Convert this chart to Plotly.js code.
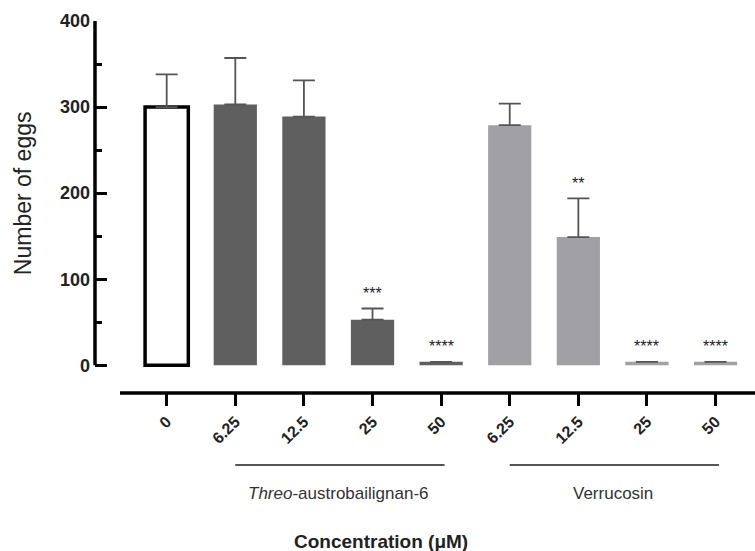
<!DOCTYPE html>
<html>
<head>
<meta charset="utf-8">
<script src="https://cdn.plot.ly/plotly-3.0.1.min.js"></script>
<style>html,body{margin:0;padding:0;background:#fff;}#chart{width:755px;height:551px;}</style>
</head>
<body>
<div id="chart"></div>
<script>
// ---- data ----
const categories = ["0", "6.25", "12.5", "25", "50", "6.25", "12.5", "25", "50"];
const groupNames = ["Control", "<i>Threo</i>-austrobailignan-6", "Verrucosin"];
const groupOf = [0, 1, 1, 1, 1, 2, 2, 2, 2];
const meanEggs = [300, 303, 289, 53, 4, 279, 149, 4, 4];
const errEggs = [38, 54, 42, 13, 0, 25, 45, 0, 0];
const stars = ["", "", "", "***", "****", "", "**", "****", "****"];
const yTicks = [0, 100, 200, 300, 400];

// ---- styles ----
const FONT = "Liberation Sans, Arial, Helvetica, sans-serif";
const W = 755, H = 551;
const M = {l: 95, r: 0, t: 21, b: 158};
const plotH = H - M.t - M.b;
const plotW = W - M.l - M.r;
const fills = ["#ffffff", "#5f5f5f", "#a1a1a5"];
const lines = ["#000000", "#5f5f5f", "#a1a1a5"];
const lineW = [3.5, 0, 0];

const traces = [0, 1, 2].map(g => {
  const idx = categories.map((c, i) => i).filter(i => groupOf[i] === g);
  return {
    type: "bar",
    x: idx,
    y: idx.map(i => meanEggs[i]),
    width: 0.63,
    marker: {color: fills[g], line: {color: lines[g], width: lineW[g]}},
    error_y: {
      type: "data", symmetric: false,
      array: idx.map(i => errEggs[i]),
      arrayminus: idx.map(() => 0),
      color: "#555555", thickness: 1.8, width: 11
    },
    hoverinfo: "skip",
    showlegend: false
  };
});

const annotations = [];
categories.forEach((c, i) => {
  if (stars[i]) {
    annotations.push({
      x: i, y: meanEggs[i] + errEggs[i], xref: "x", yref: "y",
      text: stars[i], showarrow: false, yanchor: "middle", yshift: 15,
      font: {family: FONT, size: 16, color: "#222"}
    });
  }
});

const shapes = [
  // y axis line (0..400 only)
  {type: "line", xref: "paper", yref: "y", x0: 0, x1: 0, y0: 0, y1: 400,
   line: {color: "#000", width: 3.5}},
  // x axis line (offset below zero)
  {type: "line", xref: "paper", yref: "paper", x0: (120 - M.l) / plotW, x1: 1, y0: 0, y1: 0,
   line: {color: "#000", width: 3.5}}
];

[1, 2].forEach(g => {
  const idx = categories.map((c, i) => i).filter(i => groupOf[i] === g);
  const a = Math.min(...idx), b = Math.max(...idx);
  shapes.push({type: "line", xref: "x", yref: "paper", x0: a, x1: b + 0.05,
    y0: -72 / plotH, y1: -72 / plotH, line: {color: "#555", width: 1.8}});
  annotations.push({x: (a + b) / 2, xref: "x", y: -100 / plotH, yref: "paper",
    text: groupNames[g], showarrow: false, yanchor: "middle",
    font: {family: FONT, size: 17, color: "#333"}});
});

annotations.push({x: (381 - M.l) / plotW, xref: "paper", y: -148 / plotH, yref: "paper",
  text: "<b>Concentration (μM)</b>", showarrow: false, yanchor: "middle",
  font: {family: FONT, size: 19, color: "#222"}});

// y axis title
annotations.push({x: (23 - M.l) / plotW, xref: "paper", y: 200, yref: "y",
  text: "Number of eggs", textangle: -90, showarrow: false,
  xanchor: "center", yanchor: "middle",
  font: {family: FONT, size: 23, color: "#222"}});

const layout = {
  width: W, height: H,
  margin: M,
  paper_bgcolor: "#fff", plot_bgcolor: "#fff",
  xaxis: {
    range: [-1.045, 8.575],
    tickmode: "array",
    tickvals: categories.map((c, i) => i),
    ticktext: categories.map(c => "<b>" + c + "</b>"),
    tickangle: -45,
    ticks: "outside", ticklen: 12, tickwidth: 3, tickcolor: "#000",
    showline: false, showgrid: false, zeroline: false,
    tickfont: {family: FONT, size: 16, color: "#222"}
  },
  yaxis: {
    range: [-32.2, 400],
    tickmode: "array",
    tickvals: yTicks,
    ticktext: yTicks.map(v => "<b>" + v + "</b>"),
    ticks: "inside", ticklen: 12, tickwidth: 3, tickcolor: "#000",
    minor: {dtick: 50, tick0: 0, ticks: "inside", ticklen: 7, tickwidth: 3, tickcolor: "#000"},
    showline: false, showgrid: false, zeroline: false,
    ticklabelstandoff: 4,
    tickfont: {family: FONT, size: 18, color: "#222"}
  },
  shapes: shapes,
  annotations: annotations
};

Plotly.newPlot("chart", traces, layout, {staticPlot: true});
</script>
</body>
</html>
